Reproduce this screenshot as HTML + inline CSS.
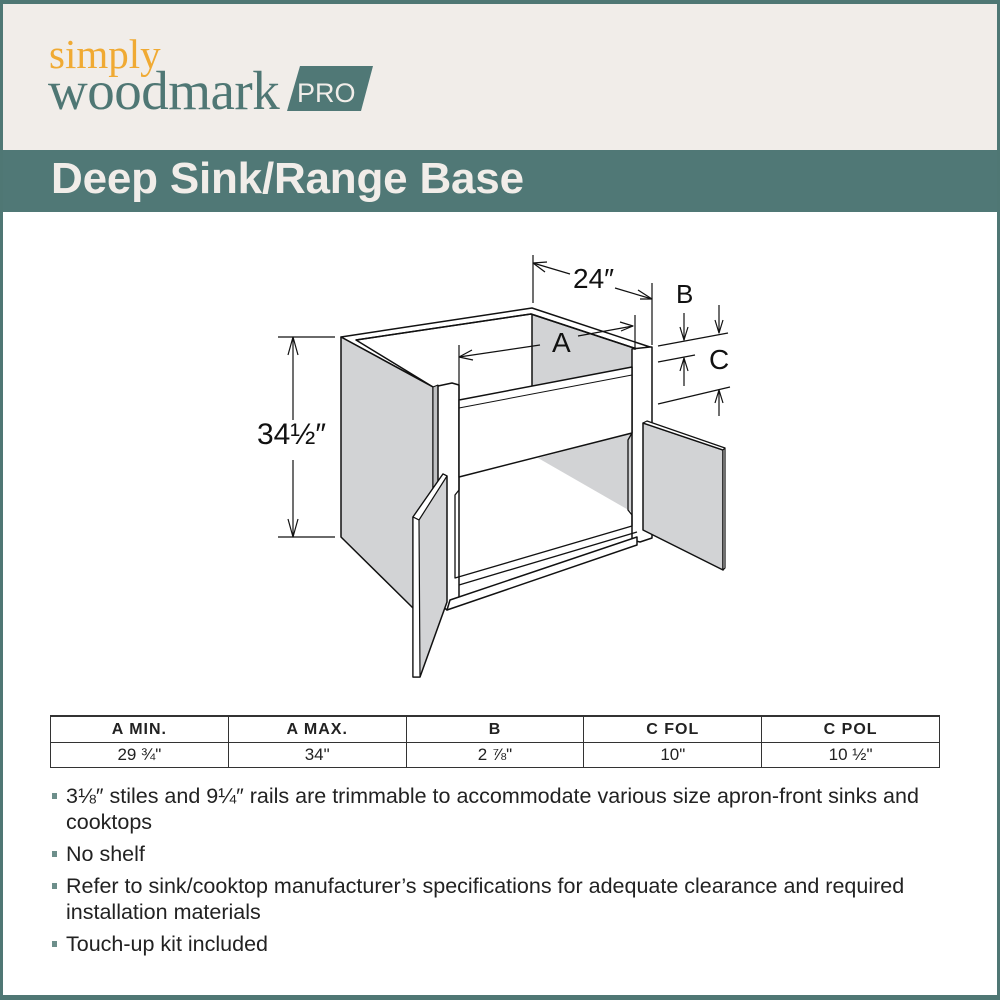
<!DOCTYPE html>
<html><head><meta charset="utf-8"><style>
*{margin:0;padding:0;box-sizing:border-box}
body{width:1000px;height:1000px;overflow:hidden;background:#fff;font-family:"Liberation Sans",sans-serif}
#frame{position:absolute;left:0;top:0;width:1000px;height:1000px;border:3px solid #4f7774;border-top-width:4px;border-bottom-width:5px}
#hdr{position:absolute;left:3px;top:4px;width:994px;height:146px;background:#f1ede9}
#band{position:absolute;left:0;top:150px;width:1000px;height:62px;background:#507876}
#title{position:absolute;left:51px;top:154px;font-weight:bold;font-size:44px;color:#f1ede9;letter-spacing:-0.2px}
.logo{position:absolute;font-family:"Liberation Serif",serif}
table{position:absolute;left:50px;top:715px;width:890px;border-collapse:collapse;font-family:"Liberation Sans Narrow","Liberation Sans",sans-serif}
td{border:1px solid #333;text-align:center;width:20%;height:25px;font-size:17px;color:#222}
tr.h td{font-weight:bold;font-family:"Liberation Sans",sans-serif;font-size:16px;letter-spacing:1px;height:26px;padding-top:2px}
tr.h td{border-top:2px solid #333}
ul{position:absolute;left:50px;top:783px;width:880px;list-style:none;font-family:"Liberation Sans Narrow","Liberation Sans",sans-serif;font-size:21.5px;color:#222;line-height:26px}
li{position:relative;padding-left:16px;margin-bottom:6px}
li:before{content:"";position:absolute;left:2px;top:10px;width:5px;height:6px;background:#6d8f8b}
</style></head><body>
<div id="hdr"></div>
<div class="logo" style="left:49px;top:30px;font-size:41px;color:#f0aa33">simply</div>
<div class="logo" style="left:48px;top:59px;font-size:55px;color:#4f7774;letter-spacing:-0.5px">woodmark</div>
<svg style="position:absolute;left:0;top:0" width="400" height="130">
<polygon points="300,66 373,66 361,111 287,111" fill="#507876"/>
<text x="297" y="102" font-family="Liberation Sans,sans-serif" font-size="27" fill="#f1ede9">PRO</text>
</svg>
<div id="band"></div>
<div id="title">Deep Sink/Range Base</div>

<svg style="position:absolute;left:0;top:0" width="1000" height="700" fill="none" stroke="#111" stroke-width="1.5" stroke-linejoin="round">
<polygon points="532,312 632,347 632,367 532,388" fill="#d2d3d5" stroke="none"/>
<polygon points="538,458 632,433 632,512" fill="#d2d3d5" stroke="none"/>
<line x1="532" y1="312" x2="532" y2="388"/>
<polygon points="341,337 532,308 650,347 637,349 531,314 356,340 433,387 341,337" fill="#fff"/>
<polyline points="356,340 531,314 637,349"/>
<polygon points="341,337 433,387 433,608 413,608 341,537" fill="#d2d3d5"/>
<polygon points="433,387 438,385 438,603 433,606" fill="#bfc0c2" stroke-width="1"/>
<polygon points="438,386 452,383 459,385 459,603 447,610 438,603" fill="#fff"/>
<polygon points="632,349 650,347 652,347 652,538 640,542 632,540" fill="#fff"/>
<polygon points="459,400 632,367 632,433 459,477" fill="#fff"/>
<line x1="459" y1="408" x2="632" y2="375" stroke-width="1"/>
<polyline points="459,477 459,490 455,495 455,578 632,526 632,515 628,510 628,440 632,433" stroke-width="1.3"/>
<polyline points="459,585 637,532" stroke-width="1.3"/>
<polygon points="447,610 637,545 637,537 450,600" fill="#fff"/>
<line x1="278" y1="337" x2="335" y2="337" stroke-width="1.2"/>
<line x1="278" y1="537" x2="335" y2="537" stroke-width="1.2"/>
<line x1="293" y1="337" x2="293" y2="420" stroke-width="1.2"/>
<line x1="293" y1="460" x2="293" y2="537" stroke-width="1.2"/>
<polyline points="288,355 293,337 298,355" stroke-width="1.2"/>
<polyline points="288,519 293,537 298,519" stroke-width="1.2"/>
<line x1="533" y1="255" x2="533" y2="303" stroke-width="1.2"/>
<line x1="652" y1="283" x2="652" y2="345" stroke-width="1.2"/>
<line x1="533" y1="263" x2="570" y2="274" stroke-width="1.2"/>
<line x1="615" y1="288" x2="652" y2="299" stroke-width="1.2"/>
<polyline points="547,262 533,263 545,272" stroke-width="1.2"/>
<polyline points="638,290 652,299 640,299" stroke-width="1.2"/>
<line x1="459" y1="345" x2="459" y2="400" stroke-width="1.2"/>
<line x1="635" y1="315" x2="635" y2="350" stroke-width="1.2"/>
<line x1="459" y1="357" x2="540" y2="345" stroke-width="1.2"/>
<line x1="578" y1="336" x2="633" y2="326" stroke-width="1.2"/>
<polyline points="472,350 459,357 473,360" stroke-width="1.2"/>
<polyline points="620,322 633,326 621,331" stroke-width="1.2"/>
<line x1="658" y1="346" x2="728" y2="333" stroke-width="1.2"/>
<line x1="658" y1="362" x2="695" y2="355" stroke-width="1.2"/>
<line x1="658" y1="404" x2="730" y2="387" stroke-width="1.2"/>
<line x1="684" y1="313" x2="684" y2="340" stroke-width="1.2"/>
<polyline points="680,327 684,340 688,327" stroke-width="1.2"/>
<line x1="719" y1="305" x2="719" y2="333" stroke-width="1.2"/>
<polyline points="715,320 719,333 723,320" stroke-width="1.2"/>
<line x1="684" y1="358" x2="684" y2="386" stroke-width="1.2"/>
<polyline points="680,371 684,358 688,371" stroke-width="1.2"/>
<line x1="719" y1="390" x2="719" y2="416" stroke-width="1.2"/>
<polyline points="715,403 719,390 723,403" stroke-width="1.2"/>
<polygon points="413,517 443,474 447,476 447,602 420,677 413,677" fill="#d2d3d5"/>
<polygon points="413,517 443,474 447,476 419,520" fill="#fff" stroke-width="1.2"/>
<polygon points="413,517 419,520 420,677 413,677" fill="#fff" stroke-width="1.2"/>
<polygon points="643,423 723,450 723,570 643,530" fill="#d2d3d5"/>
<polygon points="643,423 647,421 725,448 723,450" fill="#fff" stroke-width="1.2"/>
<polygon points="723,450 725,448 725,568 723,570" fill="#fff" stroke-width="1.2"/>
</svg>
<div style="position:absolute;left:257px;top:418px;font-size:30px;font-family:'Liberation Sans',sans-serif;color:#111;font-weight:300">34½″</div>
<div style="position:absolute;left:573px;top:263px;font-size:28px;color:#111">24″</div>
<div style="position:absolute;left:552px;top:327px;font-size:28px;color:#111">A</div>
<div style="position:absolute;left:676px;top:279px;font-size:26px;color:#111">B</div>
<div style="position:absolute;left:709px;top:344px;font-size:28px;color:#111">C</div>

<table>
<tr class="h"><td>A MIN.</td><td>A MAX.</td><td>B</td><td>C FOL</td><td>C POL</td></tr>
<tr><td>29 ¾"</td><td>34"</td><td>2 ⅞"</td><td>10"</td><td>10 ½"</td></tr>
</table>
<ul>
<li>3⅛″ stiles and 9¼″ rails are trimmable to accommodate various size apron-front sinks and cooktops</li>
<li>No shelf</li>
<li>Refer to sink/cooktop manufacturer’s specifications for adequate clearance and required installation materials</li>
<li>Touch-up kit included</li>
</ul>
<div id="frame"></div>
</body></html>
